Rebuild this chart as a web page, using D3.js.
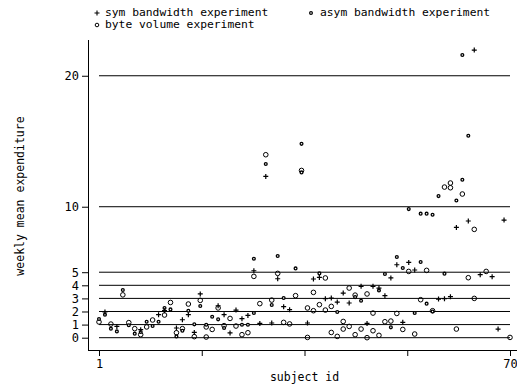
<!DOCTYPE html>
<html><head><meta charset="utf-8">
<script src="https://cdn.jsdelivr.net/npm/d3@7"></script>
<style>body{margin:0;background:#fff}svg{display:block}text{font-family:"DejaVu Sans Mono",monospace;fill:#000}</style>
</head><body>
<svg id="c" width="517" height="385"></svg>
<script>
// subject ids 1..70; each entry lists the values of that series for that subject
const subjects = d3.range(1, 71);
const symValues = [
 [],[1.96],[],[0.86],[],[],[],[0.61],[],[],
 [1.76],[2.06],[],[0.74],[1.37],[1.76],[0.40],[3.34],[],[],
 [2.44],[1.76],[0.36],[2.11],[1.45],[1.70],[5.11],[1.09],[12.31],[1.12],
 [4.5],[2.37],[2.14],[],[],[1.12],[4.48],[4.6],[2.98],[3.03],
 [2.72],[3.41],[2.65],[],[3.92],[1.09],[3.92],[3.79],[3.21],[4.56],
 [5.57],[1.17],[5.75],[5.17],[],[],[],[2.95],[2.98],[3.13],
 [8.42],[],[8.91],[21.96],[4.81],[],[4.66],[0.66],[8.98],[]
];
const asymValues = [
 [1.43],[1.76],[0.69],[0.48],[3.64],[0.95],[0.31],[0.43],[1.22],[0.89],
 [1.22],[2.27],[2.16],[0.1],[0.53],[2.06],[1.02],[2.42],[0.99],[1.6],
 [1.4],[0.74],[],[],[0.99],[0.99],[6.03,1.88],[],[13.26],[2.5],
 [6.24],[3.03],[],[5.29],[14.8,12.62],[],[],[4.91],[],[],
 [1.96],[],[],[3.1],[2.82],[],[],[3.61],[4.86],[0.79],
 [6.16],[5.32],[9.82],[1.88],[9.47,5.78],[9.47,2.6],[9.39,2.0],[10.81],[4.89],[],
 [10.48],[21.58,12.06],[15.42],[],[],[],[],[],[],[]
];
const byteValues = [
 [1.2],[],[1.04],[],[3.27],[1.15],[0.69],[0.23],[0.82],[1.35],
 [],[1.73],[2.69],[0.38],[0.69],[2.57],[0.08],[2.85],[0.82,0.05],[0.63],
 [2.27],[0.92],[1.47],[0.89],[0.23],[0.38],[4.68],[2.60],[13.97],[2.87],
 [4.91],[1.17],[1.05],[3.21],[12.77],[2.27,0.02],[3.46,2.06],[2.52],[4.56,2.11],[2.39,0.40],
 [0.10],[1.24,0.66],[3.79,0.86],[3.25,0.23],[0.66],[3.34,0],[1.88,0.53],[0.18],[1.22],[1.27],
 [1.85],[0.63],[5.06],[0.28],[2.9],[5.14],[2.06],[],[11.5],[11.81,11.45],
 [0.66],[10.97],[4.58],[8.27,3.0],[],[5.06],[],[],[],[0.02]
];
const gridValues = [0,1,2,3,4,5,10,20];
const yTickLabels = ["0","1","2","3","4","5","10","20"];
const xTicks = [1, 18.25, 35.5, 52.75, 70];
const xTickLabels = ["1","","","","70"];
const seriesNames = ["sym bandwidth experiment","asym bandwidth experiment","byte volume experiment"];

const svg = d3.select("#c");
const x = d3.scaleLinear().domain([1,70]).range([99,510]);
const y = d3.scaleLinear().domain([-0.94,22.73]).range([350,40]);

// grid lines
svg.append("g").selectAll("line").data(gridValues).join("line")
  .attr("x1", x(1)).attr("x2", x(70))
  .attr("y1", d=>y(d)).attr("y2", d=>y(d))
  .attr("stroke","#000").attr("stroke-width",1);

// y axis
const yAxis = d3.axisLeft(y).tickValues(gridValues).tickFormat((d,i)=>yTickLabels[i]).tickSize(6).tickPadding(3);
const gy = svg.append("g").attr("transform","translate(88,0)").call(yAxis);
gy.select(".domain").attr("d","M0.5,40V350.5");
gy.selectAll("line").attr("stroke","#000");
gy.selectAll("text").attr("font-size","12px").style("font-family","DejaVu Sans Mono");

// x axis
const xAxis = d3.axisBottom(x).tickValues(xTicks).tickFormat((d,i)=>xTickLabels[i]).tickSize(6).tickPadding(3);
const gx = svg.append("g").attr("transform","translate(0,350)").call(xAxis);
gx.select(".domain").attr("d","M88,0.5H517");
gx.selectAll("text").attr("font-size","12px").style("font-family","DejaVu Sans Mono");

// axis titles
svg.append("text").attr("x", x(35.5)).attr("y", 381).attr("text-anchor","middle")
  .attr("font-size","11.5px").text("subject id");
svg.append("text").attr("transform","translate(20,196) rotate(-90)").attr("text-anchor","middle")
  .attr("dominant-baseline","middle").attr("font-size","11.5px").text("weekly mean expenditure");

function flat(arr){ const out=[]; arr.forEach((vs,i)=>vs.forEach(v=>out.push({s:subjects[i],v}))); return out; }

const pts = svg.append("g");
// byte volume: hollow circles
pts.selectAll(".byte").data(flat(byteValues)).join("circle").attr("class","byte")
  .attr("cx",d=>x(d.s)).attr("cy",d=>y(d.v)).attr("r",2.3)
  .attr("fill","none").attr("stroke","#000").attr("stroke-width",1);
// asym: small thick circles
pts.selectAll(".asym").data(flat(asymValues)).join("circle").attr("class","asym")
  .attr("cx",d=>x(d.s)).attr("cy",d=>y(d.v)).attr("r",1.4)
  .attr("fill","#fff").attr("stroke","#000").attr("stroke-width",1.3);
// sym: plus
const plus = d3.symbol().type(d3.symbolCross).size(9);
pts.selectAll(".sym").data(flat(symValues)).join("path").attr("class","sym")
  .attr("transform",d=>`translate(${x(d.s)},${y(d.v)})`)
  .attr("d","M-2.5,0H2.5M0,-2.5V2.5").attr("stroke","#000").attr("stroke-width",1.2).attr("fill","none");

// legend
const lg = svg.append("g");
lg.append("path").attr("d","M94.5,13H99.5M97,10.5V15.5").attr("stroke","#000").attr("stroke-width",1.1);
lg.append("circle").attr("cx",311).attr("cy",13).attr("r",1.4).attr("fill","#fff").attr("stroke","#000").attr("stroke-width",1.2);
lg.append("circle").attr("cx",97).attr("cy",25).attr("r",1.8).attr("fill","none").attr("stroke","#000").attr("stroke-width",1);
lg.append("text").attr("x",105).attr("y",13).attr("dominant-baseline","middle").attr("font-size","11.3px").text(seriesNames[0]);
lg.append("text").attr("x",320).attr("y",13).attr("dominant-baseline","middle").attr("font-size","11.3px").text(seriesNames[1]);
lg.append("text").attr("x",105).attr("y",25).attr("dominant-baseline","middle").attr("font-size","11.3px").text(seriesNames[2]);
</script>
</body></html>
